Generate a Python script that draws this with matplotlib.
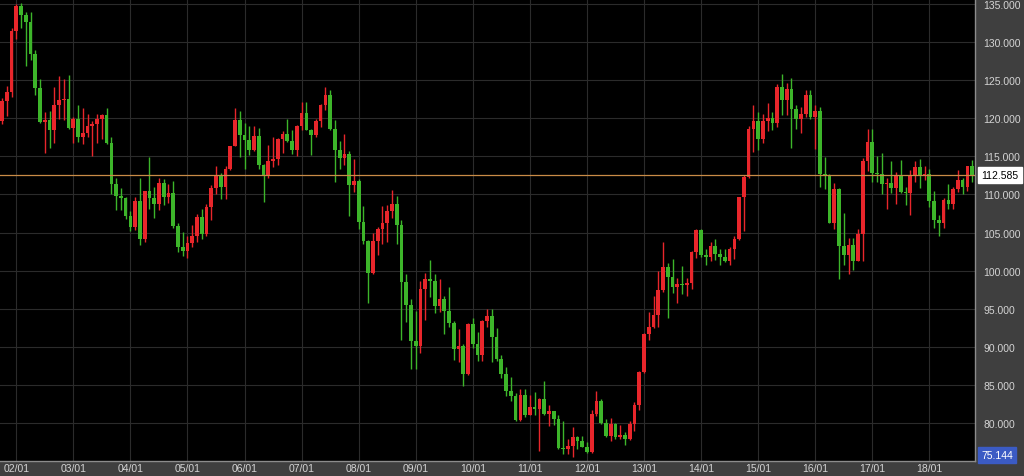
import matplotlib
matplotlib.use('Agg')
import matplotlib.pyplot as plt

plt.rcParams['font.family'] = ['Liberation Sans', 'DejaVu Sans']

# monthly candles, Oct 2001 .. Oct 2018
opens = [119.6, 122.3, 123.4,
         131.5, 134.7, 133.5, 132.7, 128.5, 124.0, 119.5, 119.8, 118.4, 121.7, 122.4, 122.5,
         118.7, 119.9, 117.6, 118.1, 119.0, 119.3, 119.9, 120.4, 116.8, 111.4, 109.8, 109.5,
         107.2, 105.7, 109.1, 104.2, 110.4, 109.5, 108.8, 111.5, 109.6, 110.2, 105.8, 103.1,
         102.6, 103.6, 104.6, 107.1, 104.8, 108.4, 110.8, 112.5, 111.0, 113.4, 116.3, 119.8,
         117.8, 117.2, 115.8, 117.7, 113.8, 112.6, 114.4, 114.6, 117.3, 118.0, 117.0, 115.8,
         119.0, 120.7, 118.5, 117.8, 119.6, 121.7, 123.1, 118.6, 115.8, 114.8, 115.3, 111.2,
         111.7, 106.4, 103.9, 99.7, 103.9, 105.5, 106.2, 107.8, 108.8, 106.0, 98.5, 95.5,
         90.8, 90.1, 97.6, 98.9, 98.6, 95.3, 96.3, 94.7, 93.1, 89.7, 90.1, 86.4,
         93.0, 90.3, 88.9, 93.4, 94.0, 91.3, 88.4, 86.4, 84.2, 83.5, 80.4, 83.7,
         81.1, 82.05, 81.8, 83.1, 81.2, 81.5, 80.5, 76.7, 76.6, 77.0, 78.1, 77.6,
         76.9, 76.2, 81.2, 82.9, 80.0, 78.3, 79.8, 78.1, 78.4, 77.9, 79.8, 82.4,
         86.7, 91.7, 92.6, 94.2, 97.4, 100.5, 99.1, 97.9, 98.2, 98.1, 98.4, 102.4,
         105.3, 102.0, 101.8, 103.2, 102.2, 101.8, 101.3, 102.8, 104.1, 109.6, 112.3, 118.6,
         119.7, 117.3, 119.6, 120.1, 119.4, 124.1, 122.4, 123.9, 121.2, 119.9, 120.6, 123.1,
         120.2, 121.0, 112.7, 112.55, 106.3, 110.7, 103.2, 102.1, 103.4, 101.3, 104.8, 114.4,
         116.9, 112.8, 112.7, 111.4, 111.5, 110.8, 112.4, 110.3, 110.2, 112.5, 113.6, 112.5,
         112.7, 109.2, 106.7, 106.3, 109.3, 108.8, 110.7, 111.85, 111.0, 113.7]
highs = [122.7, 124.3, 131.8,
         135.0, 135.2, 134.0, 133.9, 129.0, 125.2, 120.8, 121.0, 124.1, 125.6, 125.1, 125.7,
         120.2, 121.7, 121.3, 120.6, 119.6, 120.6, 120.6, 121.4, 117.5, 112.1, 110.8, 109.6,
         107.8, 109.6, 112.2, 110.5, 114.9, 111.0, 112.2, 112.0, 111.4, 111.7, 106.3, 105.1,
         104.5, 106.0, 107.4, 108.1, 108.8, 111.2, 113.7, 112.8, 113.7, 116.4, 121.4, 121.0,
         119.4, 119.0, 119.0, 118.7, 114.0, 116.5, 117.5, 117.4, 118.3, 119.9, 118.5, 119.1,
         122.2, 122.2, 118.6, 119.9, 121.9, 124.1, 123.7, 119.8, 117.0, 117.9, 115.7, 114.7,
         112.0, 108.5, 104.0, 104.9, 105.7, 108.5, 108.6, 110.6, 109.8, 106.6, 99.5, 96.3,
         94.7, 98.6, 99.7, 101.4, 99.5, 98.9, 96.6, 97.8, 93.4, 92.3, 90.4, 93.1,
         93.8, 91.9, 93.5, 95.0, 95.0, 92.4, 88.9, 87.3, 86.0, 83.9, 84.4, 84.5,
         83.7, 84.0, 83.3, 85.5, 82.3, 81.6, 81.1, 80.25, 77.85, 79.5, 78.3, 78.3,
         77.5, 81.7, 84.2, 83.2, 80.5, 80.6, 79.95, 79.7, 78.8, 80.3, 82.8, 86.8,
         91.8, 94.5, 96.7, 99.9, 103.7, 101.0, 101.5, 99.0, 100.6, 99.0, 102.6, 105.4,
         105.4, 102.8, 103.8, 104.1, 102.8, 102.8, 103.1, 104.5, 109.7, 112.5, 119.0, 121.8,
         120.8, 120.5, 122.0, 120.8, 124.45, 125.85, 124.6, 125.3, 121.75, 121.5, 123.75, 123.65,
         121.7, 121.5, 114.9, 112.7, 111.45, 110.9, 107.5, 104.3, 104.3, 105.5, 114.8, 118.65,
         118.6, 115.0, 115.5, 112.2, 114.4, 112.9, 114.5, 111.0, 113.2, 114.45, 114.7, 113.75,
         113.4, 110.5, 107.3, 109.55, 111.4, 111.0, 113.2, 112.15, 113.75, 114.55]
lows = [119.3, 120.3, 122.8,
        130.4, 131.8, 126.8, 127.6, 123.0, 119.4, 115.5, 116.1, 116.8, 119.9, 119.8, 118.6,
        116.8, 116.9, 116.6, 117.6, 115.1, 116.8, 117.3, 116.6, 110.1, 107.9, 107.9, 106.8,
        105.2, 105.3, 103.4, 103.8, 108.1, 106.9, 107.9, 108.6, 108.9, 105.6, 102.5, 101.9,
        101.7, 103.1, 103.8, 104.1, 104.6, 106.6, 110.0, 109.4, 109.4, 113.2, 116.3, 114.9,
        113.4, 115.2, 115.7, 113.3, 109.0, 112.2, 113.6, 113.9, 115.5, 116.9, 115.3, 115.0,
        118.5, 118.4, 115.2, 117.6, 118.8, 121.1, 118.4, 111.6, 113.3, 113.9, 107.2, 110.3,
        105.5, 103.5, 95.8, 99.6, 102.1, 103.5, 103.8, 106.9, 103.5, 90.9, 93.2, 87.1,
        87.1, 89.2, 93.5, 96.5, 94.4, 94.5, 91.7, 92.6, 88.2, 88.0, 84.8, 86.3,
        89.8, 88.1, 88.1, 92.6, 88.0, 88.1, 85.9, 83.6, 82.9, 80.2, 80.2, 80.8,
        81.0, 81.0, 76.25, 81.1, 79.6, 79.7, 76.6, 75.95, 75.9, 75.56, 76.6, 76.8,
        76.0, 76.1, 80.9, 79.8, 78.2, 77.65, 77.95, 77.95, 77.1, 77.8, 79.0, 81.7,
        86.5, 90.85, 92.5, 92.6, 97.2, 93.8, 97.0, 95.8, 96.9, 96.6, 97.6, 101.6,
        101.8, 100.8, 101.2, 101.4, 100.8, 101.1, 100.8, 101.5, 104.0, 105.2, 112.2, 115.6,
        115.85, 116.8, 118.3, 118.5, 118.9, 120.4, 120.4, 116.15, 118.6, 118.1, 120.2, 119.9,
        115.98, 110.99, 110.65, 106.25, 105.5, 98.9, 100.7, 99.5, 100.1, 101.2, 101.2, 113.1,
        111.6, 111.6, 110.1, 108.1, 110.2, 108.8, 110.2, 108.6, 107.3, 111.65, 110.8, 111.9,
        108.3, 105.55, 104.6, 105.6, 108.1, 108.1, 110.3, 110.0, 110.4, 111.6]
closes = [122.3, 123.4, 131.5,
          134.7, 133.5, 132.7, 128.5, 124.0, 119.5, 119.8, 118.4, 121.7, 122.4, 122.5, 118.7,
          119.9, 117.6, 118.1, 119.0, 119.3, 119.9, 120.4, 116.8, 111.4, 109.8, 109.5, 107.2,
          105.7, 109.1, 104.2, 110.4, 109.5, 108.8, 111.5, 109.6, 110.2, 105.8, 103.1, 102.6,
          103.6, 104.6, 107.1, 104.8, 108.4, 110.8, 112.5, 111.0, 113.4, 116.3, 119.8, 117.8,
          117.2, 115.8, 117.7, 113.8, 112.6, 114.4, 114.6, 117.3, 118.0, 117.0, 115.8, 119.0,
          120.7, 118.5, 117.8, 119.6, 121.7, 123.1, 118.6, 115.8, 114.8, 115.3, 111.2, 111.7,
          106.4, 103.9, 99.7, 103.9, 105.5, 106.2, 107.8, 108.8, 106.0, 98.5, 95.5, 90.8,
          90.1, 97.6, 98.9, 98.6, 95.3, 96.3, 94.7, 93.1, 89.7, 90.1, 86.4, 93.0,
          90.3, 88.9, 93.4, 94.0, 91.3, 88.4, 86.4, 84.2, 83.5, 80.4, 83.7, 81.1,
          82.05, 81.8, 83.1, 81.2, 81.5, 80.5, 76.7, 76.6, 77.0, 78.1, 77.6, 76.9,
          76.2, 81.2, 82.9, 80.0, 78.3, 79.8, 78.1, 78.4, 77.9, 79.8, 82.4, 86.7,
          91.7, 92.6, 94.2, 97.4, 100.5, 99.1, 97.9, 98.2, 98.1, 98.4, 102.4, 105.3,
          102.0, 101.8, 103.2, 102.2, 101.8, 101.3, 102.8, 104.1, 109.6, 112.3, 118.6, 119.7,
          117.3, 119.6, 120.1, 119.4, 124.1, 122.4, 123.9, 121.2, 119.9, 120.6, 123.1, 120.2,
          121.0, 112.7, 112.55, 106.3, 110.7, 103.2, 102.1, 103.4, 101.3, 104.8, 114.4, 116.9,
          112.8, 112.7, 111.4, 111.5, 110.8, 112.4, 110.3, 110.2, 112.5, 113.6, 112.5, 112.7,
          109.2, 106.7, 106.3, 109.3, 108.8, 110.7, 111.85, 111.0, 113.7, 112.585]

year_labels = ['02/01', '03/01', '04/01', '05/01', '06/01', '07/01', '08/01', '09/01',
               '10/01', '11/01', '12/01', '13/01', '14/01', '15/01', '16/01', '17/01', '18/01']
first_jan = 3  # index of the Jan 2002 candle
last_price = 112.585
low_label = 75.144

UP = '#e8262b'
DOWN = '#3db52a'
PANEL = '#3f3f3f'
FS = 7.5

fig = plt.figure(figsize=(10.24, 4.77), dpi=100, facecolor=PANEL)
ax = fig.add_axes([0, 15 / 477, 975 / 1024, 462 / 477], facecolor='black')

x = list(range(len(closes)))
cols = [UP if c >= o else DOWN for o, c in zip(opens, closes)]
bottoms = [min(o, c) for o, c in zip(opens, closes)]
heights = [max(abs(c - o), 0.15) for o, c in zip(opens, closes)]

ax.vlines(x, lows, highs, colors=cols, linewidth=1.0, zorder=3)
ax.bar(x, heights, bottom=bottoms, width=0.78, color=cols, linewidth=0, zorder=4)

ax.axhline(last_price, color='#c98b47', linewidth=0.9, zorder=5)

ax.set_xlim(-0.42, 204.6)
ax.set_ylim(75.0, 135.66)

ax.yaxis.tick_right()
ax.set_yticks(range(80, 136, 5))
ax.set_yticklabels(['%.3f' % v for v in range(80, 136, 5)])
ax.set_xticks([first_jan + 12 * k for k in range(len(year_labels))])
ax.set_xticklabels(year_labels)
ax.tick_params(axis='both', length=0, colors='#d4d4d4', labelsize=FS)
ax.tick_params(axis='y', pad=6)
ax.tick_params(axis='x', pad=1.5)
ax.grid(True, color='#2b2b2b', linewidth=0.8, zorder=0)
ax.set_axisbelow(True)

for side in ['top', 'left']:
    ax.spines[side].set_visible(False)
ax.spines['bottom'].set_color('#8c8c8c')
ax.spines['right'].set_color('#8c8c8c')
ax.spines['bottom'].set_linewidth(1.0)
ax.spines['right'].set_linewidth(1.0)

# price labels on the right axis
ax.annotate('%.3f' % last_price, xy=(1.0, last_price), xycoords=('axes fraction', 'data'),
            xytext=(4.5, 0), textcoords='offset points', va='center', ha='left',
            fontsize=FS, color='black', annotation_clip=False,
            bbox=dict(boxstyle='square,pad=0.3', fc='white', ec='white'))
ax.annotate('%.3f' % low_label, xy=(1.0, 0.0), xycoords='axes fraction',
            xytext=(4.5, 4.5), textcoords='offset points', va='center', ha='left',
            fontsize=FS, color='white', annotation_clip=False,
            bbox=dict(boxstyle='square,pad=0.3', fc='#3b5bc4', ec='#3b5bc4'))

fig.savefig('out.png', dpi=100, facecolor=PANEL)
